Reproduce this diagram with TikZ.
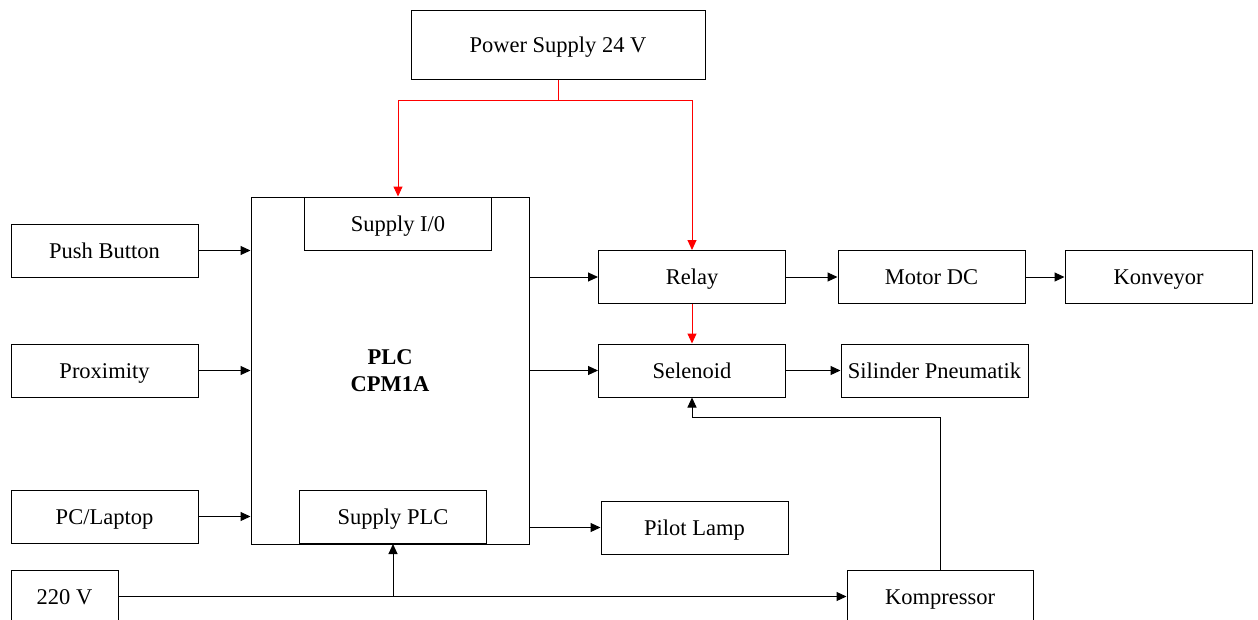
\documentclass[tikz,border=0pt]{standalone}
\usepackage{fontspec}
\setmainfont{Liberation Serif}
\usepackage{tikz}
\usetikzlibrary{calc,arrows.meta}
\tikzset{
  blk/.style={draw=black, line width=1pt, inner sep=0pt, minimum width=187pt, minimum height=53pt,
              text height=18pt, text depth=3pt, font=\fontsize{22.5}{27}\selectfont},
  wire/.style={line width=1pt, -{Triangle[length=10pt,width=9pt]}},
  pwire/.style={wire, color=red},
  }

\begin{document}
\begin{tikzpicture}[x=1pt,y=-1pt]
  \useasboundingbox (0,0) rectangle (1258,619);
  \clip (0,0) rectangle (1258,619);

  % plc and its supplies
  \node[blk,minimum width=278pt,minimum height=347pt,text height=,text depth=,align=center,
        font=\fontsize{22.5}{27}\selectfont\bfseries] (plc) at (390,370.5) {PLC\\CPM1A};
  \node[blk] (supio)  at (398,223.5) {Supply I/0};
  \node[blk] (supplc) at (393,517)   {Supply PLC};

  % inputs
  \node[blk] (push) at (104.5,250.5) {Push Button};
  \node[blk] (prox) at (104.5,370.5) {Proximity};
  \node[blk] (pc)   at (104.5,516.5) {PC/Laptop};
  \node[blk,minimum width=107pt] (ac) at (64.5,596.5) {220 V};

  % outputs
  \node[blk,minimum width=294pt,minimum height=69pt] (psu) at (558,44.5) {Power Supply 24 V};
  \node[blk] (relay) at (692,277)    {Relay};
  \node[blk] (selen) at (692,370.5)  {Selenoid};
  \node[blk] (lamp)  at (694.5,527.5) {Pilot Lamp};
  \node[blk] (motor) at (931.5,277)  {Motor DC};
  \node[blk] (konv)  at (1158.5,277) {Konveyor};
  \node[blk] (silin) at (934.5,370.5) {Silinder Pneumatik};
  \node[blk,minimum width=186pt] (komp) at (940,596.5) {Kompressor};

  % 24 V lines
  \draw[line width=1pt,color=red] (psu.south) -- ++(0,21) coordinate (bus);
  \draw[pwire] (bus) -| (supio.north);
  \draw[pwire] (bus) -| (relay.north);
  \draw[pwire] (relay) -- (selen);

  % inputs to plc
  \draw[wire] (push) -- (push -| plc.west);
  \draw[wire] (prox) -- (prox -| plc.west);
  \draw[wire] (pc)   -- (pc -| plc.west);

  % plc to outputs
  \draw[wire] (plc.east |- relay) -- (relay);
  \draw[wire] (plc.east |- selen) -- (selen);
  \draw[wire] (plc.east |- lamp)  -- (lamp);
  \draw[wire] (relay) -- (motor);
  \draw[wire] (motor) -- (konv);
  \draw[wire] (selen) -- (silin);

  % 220 V and air
  \draw[wire] (ac) -- (ac -| komp.west);
  \draw[wire] (ac -| supplc.south) -- (supplc.south);
  \draw[wire] (komp.north) -- ++(0,-152) -| (selen.south);
\end{tikzpicture}
\end{document}
